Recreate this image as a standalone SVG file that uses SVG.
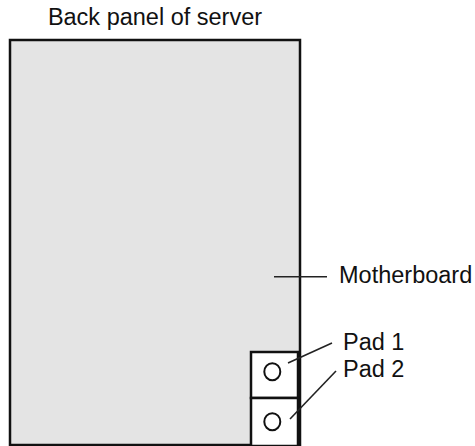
<svg xmlns="http://www.w3.org/2000/svg" width="475" height="446" viewBox="0 0 475 446">
<style>
text{font-family:"Liberation Sans",Arial,sans-serif;font-size:23.5px;fill:#111}
.b{stroke:#111;stroke-width:2.5;}
.l{stroke:#222;stroke-width:1.6;fill:none}
</style>
<rect width="475" height="446" fill="#fff"/>
<g id="panel">
<text x="155" y="25" text-anchor="middle">Back panel of server</text>
<rect class="b" x="10" y="40" width="290" height="405" fill="#e4e4e4"/>
</g>
<g id="pad1">
<rect class="b" x="251" y="352" width="47" height="46" fill="#fff"/>
<ellipse cx="272.3" cy="371.7" rx="8" ry="8.5" fill="none" stroke="#111" stroke-width="2"/>
</g>
<g id="pad2">
<rect class="b" x="251" y="398" width="47" height="48" fill="#fff"/>
<ellipse cx="272.3" cy="421.7" rx="8" ry="8.5" fill="none" stroke="#111" stroke-width="2"/>
</g>
<g id="labels">
<text x="339" y="283">Motherboard</text>
<text x="343" y="350">Pad 1</text>
<text x="343" y="377">Pad 2</text>
</g>
<g id="connectors">
<line class="l" x1="274" y1="276.7" x2="327" y2="276.7"/>
<line class="l" x1="288" y1="363" x2="332" y2="343"/>
<line class="l" x1="290" y1="419" x2="336" y2="371"/>
</g>
</svg>
